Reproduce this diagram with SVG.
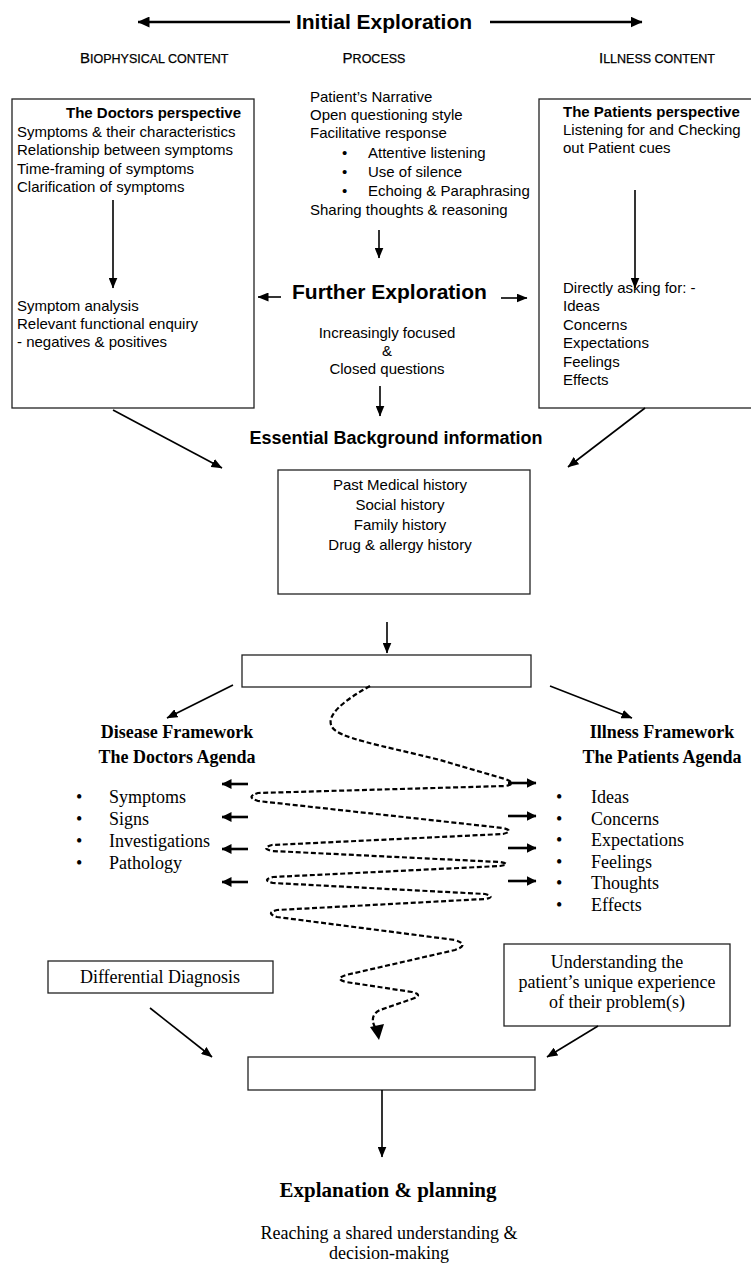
<svg xmlns="http://www.w3.org/2000/svg" width="751" height="1263" viewBox="0 0 751 1263">
<style>
.a{font-family:"Liberation Sans",Arial,sans-serif;font-size:15px;fill:#000}
.ab{font-family:"Liberation Sans",Arial,sans-serif;font-weight:bold;fill:#000}
.t{font-family:"Liberation Serif","Times New Roman",serif;font-size:18px;fill:#000}
.tb{font-family:"Liberation Serif","Times New Roman",serif;font-weight:bold;fill:#000}
.hd{font-family:"Liberation Sans",Arial,sans-serif;fill:#000;stroke:#000;stroke-width:0.25}
.box{fill:#fff;stroke:#222;stroke-width:1.3}
.ln{stroke:#000;stroke-width:1.6;fill:none}
.lt{stroke:#000;stroke-width:2.6;fill:none}
.dash{stroke:#000;stroke-width:2.2;fill:none;stroke-dasharray:5 2.6}
.mid{text-anchor:middle}
</style>
<defs>
<marker id="ah" viewBox="0 0 11 9" refX="10.5" refY="4.5" markerWidth="11" markerHeight="9" markerUnits="userSpaceOnUse" orient="auto"><path d="M0,0 L11,4.5 L0,9 z" fill="#000"/></marker>
<marker id="ahb" viewBox="0 0 12 11" refX="11.5" refY="5.5" markerWidth="12" markerHeight="11" markerUnits="userSpaceOnUse" orient="auto"><path d="M0,0 L12,5.5 L0,11 z" fill="#000"/></marker>
<marker id="ahs" viewBox="0 0 10 10" refX="9.5" refY="5" markerWidth="10" markerHeight="10" markerUnits="userSpaceOnUse" orient="auto"><path d="M0,0 L10,5 L0,10 z" fill="#000"/></marker>
</defs>

<g id="header">
<text class="ab mid" x="384" y="29" font-size="21">Initial Exploration</text>
<text class="hd" x="80" y="63"><tspan font-size="15">B</tspan><tspan font-size="12.5">IOPHYSICAL CONTENT</tspan></text>
<text class="hd mid" x="374" y="63"><tspan font-size="15">P</tspan><tspan font-size="12.5">ROCESS</tspan></text>
<text class="hd" x="599" y="63"><tspan font-size="15">I</tspan><tspan font-size="12.5">LLNESS CONTENT</tspan></text>
</g>

<g id="doctors-perspective">
<rect class="box" x="12" y="99" width="242" height="309"/>
<text class="ab" x="66" y="118" font-size="15">The Doctors perspective</text>
<text class="a" x="17" y="137">Symptoms &amp; their characteristics</text>
<text class="a" x="17" y="155">Relationship between symptoms</text>
<text class="a" x="17" y="174">Time-framing of symptoms</text>
<text class="a" x="17" y="192">Clarification of symptoms</text>
<text class="a" x="17" y="311">Symptom analysis</text>
<text class="a" x="17" y="329">Relevant functional enquiry</text>
<text class="a" x="17" y="347">- negatives &amp; positives</text>
</g>

<g id="process">
<text class="a" x="310" y="102">Patient’s Narrative</text>
<text class="a" x="310" y="120">Open questioning style</text>
<text class="a" x="310" y="138">Facilitative response</text>
<text class="a" x="342" y="158">•</text><text class="a" x="368" y="158">Attentive listening</text>
<text class="a" x="342" y="177">•</text><text class="a" x="368" y="177">Use of silence</text>
<text class="a" x="342" y="196">•</text><text class="a" x="368" y="196">Echoing &amp; Paraphrasing</text>
<text class="a" x="310" y="215">Sharing thoughts &amp; reasoning</text>
</g>

<g id="further-exploration">
<text class="ab" x="292" y="299" font-size="21">Further Exploration</text>
<text class="a mid" x="387" y="338">Increasingly focused</text>
<text class="a mid" x="387" y="356">&amp;</text>
<text class="a mid" x="387" y="374">Closed questions</text>
</g>

<g id="patients-perspective">
<rect class="box" x="539" y="99" width="230" height="309"/>
<text class="ab" x="563" y="117" font-size="15">The Patients perspective</text>
<text class="a" x="563" y="135">Listening for and Checking</text>
<text class="a" x="563" y="153">out Patient cues</text>
<text class="a" x="563" y="293">Directly asking for: -</text>
<text class="a" x="563" y="311">Ideas</text>
<text class="a" x="563" y="330">Concerns</text>
<text class="a" x="563" y="348">Expectations</text>
<text class="a" x="563" y="367">Feelings</text>
<text class="a" x="563" y="385">Effects</text>
</g>

<g id="background">
<text class="ab mid" x="396" y="444" font-size="18">Essential Background information</text>
<rect class="box" x="278" y="470" width="252" height="124"/>
<text class="a mid" x="400" y="490">Past Medical history</text>
<text class="a mid" x="400" y="510">Social history</text>
<text class="a mid" x="400" y="530">Family history</text>
<text class="a mid" x="400" y="550">Drug &amp; allergy history</text>
</g>

<g id="middle-box">
<rect class="box" x="242" y="655" width="289" height="32"/>
</g>

<g id="disease-framework">
<text class="tb mid" x="177" y="738" font-size="18">Disease Framework</text>
<text class="tb mid" x="177" y="763" font-size="18">The Doctors Agenda</text>
<text class="t" x="76" y="803">•</text><text class="t" x="109" y="803">Symptoms</text>
<text class="t" x="76" y="825">•</text><text class="t" x="109" y="825">Signs</text>
<text class="t" x="76" y="847">•</text><text class="t" x="109" y="847">Investigations</text>
<text class="t" x="76" y="869">•</text><text class="t" x="109" y="869">Pathology</text>
</g>

<g id="illness-framework">
<text class="tb mid" x="662" y="738" font-size="18">Illness Framework</text>
<text class="tb mid" x="662" y="763" font-size="18">The Patients Agenda</text>
<text class="t" x="556" y="803">•</text><text class="t" x="591" y="803">Ideas</text>
<text class="t" x="556" y="825">•</text><text class="t" x="591" y="825">Concerns</text>
<text class="t" x="556" y="846">•</text><text class="t" x="591" y="846">Expectations</text>
<text class="t" x="556" y="868">•</text><text class="t" x="591" y="868">Feelings</text>
<text class="t" x="556" y="889">•</text><text class="t" x="591" y="889">Thoughts</text>
<text class="t" x="556" y="911">•</text><text class="t" x="591" y="911">Effects</text>
</g>

<g id="differential">
<rect class="box" x="48" y="961" width="225" height="32"/>
<text class="t mid" x="160" y="983">Differential Diagnosis</text>
</g>

<g id="understanding">
<rect class="box" x="504" y="944" width="226" height="82"/>
<text class="t mid" x="617" y="968">Understanding the</text>
<text class="t mid" x="617" y="988">patient’s unique experience</text>
<text class="t mid" x="617" y="1008">of their problem(s)</text>
</g>

<g id="bottom-box">
<rect class="box" x="248" y="1057" width="287" height="33"/>
</g>

<g id="explanation">
<text class="tb mid" x="388" y="1197" font-size="21">Explanation &amp; planning</text>
<text class="t mid" x="389" y="1239" font-size="17.5">Reaching a shared understanding &amp;</text>
<text class="t mid" x="389" y="1259" font-size="17.5">decision-making</text>
</g>

<g id="connectors">
<line class="lt" x1="290" y1="22" x2="138" y2="22" marker-end="url(#ahb)"/>
<line class="lt" x1="490" y1="22" x2="642" y2="22" marker-end="url(#ahb)"/>
<line class="ln" x1="113" y1="200" x2="113" y2="288" marker-end="url(#ah)"/>
<line class="ln" x1="635" y1="190" x2="635" y2="288" marker-end="url(#ah)"/>
<line class="ln" x1="379" y1="230" x2="379" y2="258" marker-end="url(#ah)"/>
<line class="ln" x1="281" y1="297" x2="258" y2="297" marker-end="url(#ah)"/>
<line class="ln" x1="501" y1="298" x2="527" y2="298" marker-end="url(#ah)"/>
<line class="ln" x1="380" y1="386" x2="380" y2="416" marker-end="url(#ah)"/>
<line class="ln" x1="113" y1="410" x2="222" y2="468" marker-end="url(#ah)"/>
<line class="ln" x1="645" y1="408" x2="568" y2="467" marker-end="url(#ah)"/>
<line class="ln" x1="387" y1="622" x2="387" y2="653" marker-end="url(#ah)"/>
<line class="ln" x1="233" y1="685" x2="167" y2="718" marker-end="url(#ah)"/>
<line class="ln" x1="550" y1="686" x2="632" y2="718" marker-end="url(#ah)"/>
<line class="lt" x1="248" y1="784" x2="222" y2="784" marker-end="url(#ahs)"/>
<line class="lt" x1="248" y1="817" x2="222" y2="817" marker-end="url(#ahs)"/>
<line class="lt" x1="248" y1="849" x2="222" y2="849" marker-end="url(#ahs)"/>
<line class="lt" x1="248" y1="882" x2="222" y2="882" marker-end="url(#ahs)"/>
<line class="lt" x1="508" y1="783" x2="536" y2="783" marker-end="url(#ahs)"/>
<line class="lt" x1="508" y1="816" x2="536" y2="816" marker-end="url(#ahs)"/>
<line class="lt" x1="508" y1="848" x2="536" y2="848" marker-end="url(#ahs)"/>
<line class="lt" x1="508" y1="881" x2="536" y2="881" marker-end="url(#ahs)"/>
<path class="dash" d="M370,686 C345,700 325,715 332,727 C338,738 380,745 440,760 L505,779 Q518,784 505,786 L258,793 Q245,797 258,801 L503,828 Q515,831 503,834 L272,845 Q260,848 272,851 L500,862 Q512,864 500,866 L273,877 Q261,880 273,883 L485,894 Q496,897 485,899 L277,910 Q265,913 277,917 L455,940 Q470,945 455,950 L346,975 Q334,979 346,982 L412,992 Q424,995 412,999 L380,1010 Q370,1015 374,1025 L377,1032"/>
<path d="M370,1027 L379,1040 L384,1024 z" fill="#000"/>
<line class="ln" x1="150" y1="1008" x2="212" y2="1057" marker-end="url(#ah)"/>
<line class="ln" x1="598" y1="1026" x2="547" y2="1057" marker-end="url(#ah)"/>
<line class="ln" x1="382" y1="1090" x2="382" y2="1157" marker-end="url(#ah)"/>
</g>
</svg>
